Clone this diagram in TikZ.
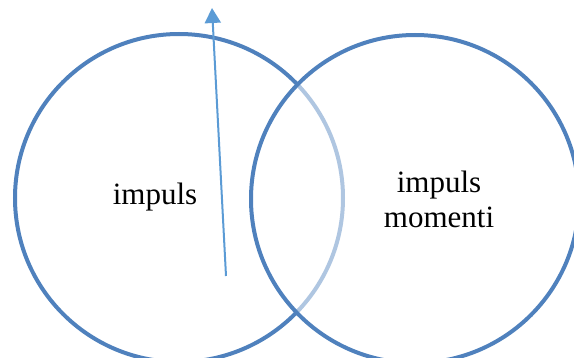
\documentclass[tikz,border=0pt]{standalone}
\usepackage{fontspec}
\setmainfont{Liberation Serif}
\usetikzlibrary{arrows.meta}
\definecolor{ringblue}{HTML}{4F81BD}
\definecolor{arrowblue}{HTML}{5B9BD5}
\tikzset{
  ring/.style={draw=ringblue, line width=4pt},
  label/.style={font=\fontsize{31}{35}\selectfont, align=center, inner sep=0pt},
  pointer/.style={draw=arrowblue, line width=2pt, -{Triangle[width=16pt,length=15pt]}}
}
\begin{document}
\begin{tikzpicture}[x=1pt,y=-1pt]
\useasboundingbox (0,0) rectangle (574,358);
\node[ring, circle, minimum size=328pt, inner sep=0pt] (left) at (179,198) {};
\node[ring, circle, minimum size=328pt, inner sep=0pt, fill=white, fill opacity=0.55] (right) at (415,199) {};
\node[label] (t1) at (155,197) {impuls};
\node[label] (t2) at (439,199) {impuls\\momenti};
\coordinate (a0) at (226,276);
\coordinate (a1) at (212,8);
\draw[pointer] (a0) -- (a1);
\end{tikzpicture}
\end{document}
